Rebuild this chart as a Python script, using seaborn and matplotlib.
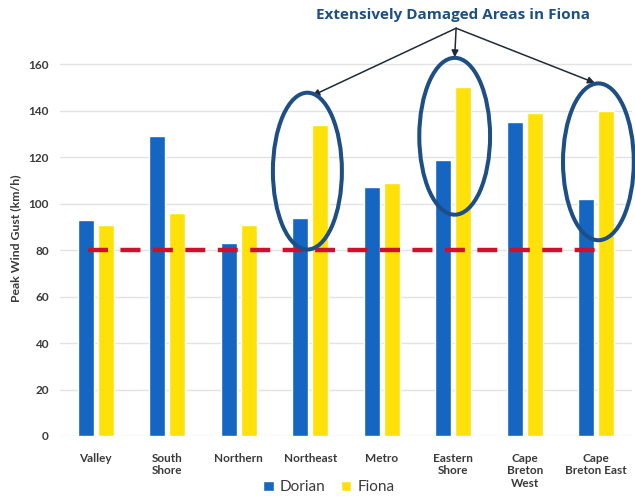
import matplotlib
matplotlib.use("Agg")
import matplotlib.pyplot as plt
import seaborn as sns
import pandas as pd
from matplotlib.patches import Ellipse

categories = ["Valley", "South\nShore", "Northern", "Northeast", "Metro",
              "Eastern\nShore", "Cape\nBreton\nWest", "Cape\nBreton East"]
dorian = [93, 129, 83, 94, 107, 119, 135, 102]
fiona = [91, 96, 91, 134, 109, 150, 139, 140]
threshold = 80
highlighted = [3, 5, 7]

df = pd.DataFrame({
    "Region": categories * 2,
    "Gust": dorian + fiona,
    "Storm": ["Dorian"] * len(categories) + ["Fiona"] * len(categories),
})

sns.set_theme(style="white")
plt.rcParams["font.family"] = ["Lato", "DejaVu Sans"]

fig = plt.figure(figsize=(6.35, 5.01), dpi=100)
ax = fig.add_axes([60 / 635, 1 - 436 / 501, 572 / 635, 395 / 501])

sns.barplot(data=df, x="Region", y="Gust", hue="Storm", ax=ax,
            palette={"Dorian": "#1565c2", "Fiona": "#ffe10a"},
            width=0.56, gap=0.2, saturation=1, errorbar=None)

ax.set_ylim(0, 170)
ax.set_xlim(-0.5, len(categories) - 0.5)
ax.set_yticks(range(0, 161, 20))
ax.yaxis.grid(True, color="#e3e3e3", linewidth=1)
ax.set_axisbelow(True)
for s in ax.spines.values():
    s.set_visible(False)
ax.tick_params(axis="both", length=0, labelsize=8.5, labelcolor="#3a3a3a")
for lab in ax.get_xticklabels() + ax.get_yticklabels():
    lab.set_fontweight("bold")
ax.tick_params(axis="x", pad=12)
ax.tick_params(axis="y", pad=8)
ax.set_xlabel("")
ax.set_ylabel("Peak Wind Gust (km/h)", fontsize=8.8, fontweight="bold",
              color="#3a3a3a", labelpad=5)

# threshold line
ax.plot([-0.11, 7.05], [threshold, threshold], color="#d0102a", lw=3.2,
        dashes=(4.5, 2.8), zorder=5)

# ellipses
ell_specs = [(2.96, 114, 0.965, 67.5), (5.02, 129, 0.99, 67.5), (7.03, 118, 0.99, 67.5)]
for cx, cy, w, h in ell_specs:
    ax.add_patch(Ellipse((cx, cy), w, h, fill=False, edgecolor="#1d4f86",
                         lw=2.9, zorder=6, clip_on=False))

# annotation
src = (5.04, 175.5)
targets = [(3.03, 146.5), (5.02, 163), (6.98, 152)]
for t in targets:
    ax.annotate("", xy=t, xytext=src, annotation_clip=False,
                arrowprops=dict(arrowstyle="-|>", color="#1e2a3a", lw=1.1,
                                mutation_scale=10, shrinkA=0, shrinkB=0))
fig.text(453 / 635, 1 - 15 / 501, "Extensively Damaged Areas in Fiona",
         ha="center", va="center", fontsize=11, fontweight="bold",
         color="#1d4f86", family=["Open Sans", "DejaVu Sans"])

# legend
handles, labels = ax.get_legend_handles_labels()
ax.legend(handles, labels, loc="center", bbox_to_anchor=(0.47, -0.13),
          ncol=2, frameon=False, fontsize=11, handlelength=0.7,
          handleheight=0.7, handletextpad=0.4, columnspacing=1.0,
          labelcolor="#3a3a3a")

fig.savefig("out.png", dpi=100)
